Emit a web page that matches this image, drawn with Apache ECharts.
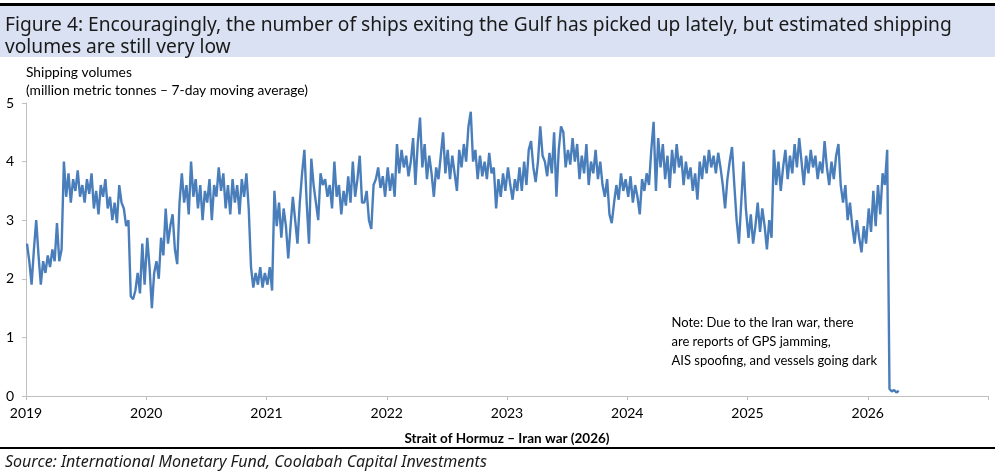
<!DOCTYPE html>
<html>
<head>
<meta charset="utf-8">
<title>Strait of Hormuz shipping volumes</title>
<script src="https://cdn.jsdelivr.net/npm/echarts@6/dist/echarts.min.js"></script>
<style>
    html, body { margin: 0; padding: 0; background: #fff; }
    #chart { width: 995px; height: 476px; }
</style>
</head>
<body>
<div id="chart"></div>
<script>
// weekly readings (million tonnes, 7-day moving average)
const vals2019 = [2.6, 2.3, 1.9, 2.5, 3.0, 2.4, 1.9, 2.3, 2.1, 2.4, 2.2, 2.5, 2.3, 2.95, 2.3, 2.5,
    4.0, 3.4, 3.8, 3.3, 3.7, 3.5, 3.85, 3.4, 3.6, 3.3, 3.7, 3.45, 3.8, 3.2, 3.5, 3.1,
    3.6, 3.4, 3.7, 3.2, 3.4, 3.0, 3.3, 2.95, 3.6, 3.3, 3.2, 2.9, 3.0, 1.7, 1.65, 1.8,
    2.1, 1.75, 2.6, 1.9];
const vals2020 = [2.7, 2.2, 1.5, 2.1, 2.3, 2.0, 2.7, 2.4, 3.2, 2.6, 2.9, 3.1, 2.5, 2.25, 3.3, 3.8,
    3.3, 3.6, 3.1, 4.0, 3.4, 3.7, 3.2, 3.6, 3.0, 3.5, 3.3, 3.7, 3.0, 3.6, 3.4, 3.9,
    3.5, 3.8, 3.2, 3.6, 3.1, 3.7, 3.3, 3.6, 3.1, 3.7, 3.4, 3.8, 3.2, 2.2, 1.85, 2.1,
    1.9, 2.2, 1.85, 2.1];
const vals2021 = [1.9, 2.2, 1.8, 3.5, 2.9, 3.3, 2.7, 3.2, 2.9, 2.35, 2.9, 3.4, 3.0, 2.6, 3.3, 3.8,
    4.2, 3.3, 2.6, 4.05, 3.6, 3.3, 3.0, 3.8, 3.6, 3.7, 3.4, 3.6, 3.2, 4.0, 3.4, 3.6,
    3.1, 3.5, 3.25, 3.75, 3.3, 4.0, 3.4, 3.7, 4.1, 3.3, 3.3, 3.5, 3.0, 2.85, 3.6, 3.7,
    3.9, 3.55, 3.75, 3.4];
const vals2022 = [3.9, 3.5, 3.8, 3.4, 4.3, 3.8, 4.2, 3.9, 4.1, 3.75, 4.0, 4.4, 3.6, 4.3, 4.75, 3.9,
    4.3, 3.7, 4.1, 3.8, 3.4, 3.9, 3.7, 4.1, 4.5, 3.8, 4.2, 3.7, 4.1, 3.8, 3.5, 4.2,
    3.9, 4.3, 4.0, 4.6, 4.85, 4.0, 4.2, 3.7, 4.1, 3.75, 4.0, 3.7, 4.15, 3.8, 3.9, 3.2,
    3.7, 3.4, 3.8, 3.5];
const vals2023 = [3.9, 3.6, 3.35, 3.7, 3.5, 3.9, 3.5, 4.0, 3.6, 4.2, 4.35, 3.9, 3.65, 4.0, 4.6, 4.1,
    4.0, 3.75, 4.15, 3.8, 4.5, 3.4, 4.2, 4.6, 4.5, 3.9, 4.2, 3.95, 4.4, 4.0, 4.3, 3.7,
    4.1, 3.8, 4.3, 3.6, 4.0, 3.8, 4.2, 3.7, 4.0, 3.6, 3.4, 3.7, 3.1, 2.95, 3.3, 3.6,
    3.35, 3.8, 3.5, 3.7];
const vals2024 = [3.4, 3.75, 3.3, 3.6, 3.4, 3.1, 3.7, 3.5, 3.8, 3.6, 4.2, 4.68, 3.5, 4.4, 3.9, 4.3,
    3.7, 4.1, 3.55, 4.2, 3.8, 4.3, 3.9, 4.1, 3.6, 4.0, 3.7, 3.9, 3.5, 3.8, 3.35, 4.0,
    3.7, 4.1, 3.8, 4.2, 3.9, 4.1, 3.8, 4.15, 3.9, 3.6, 3.2, 3.7, 4.0, 4.25, 3.6, 3.0,
    2.6, 3.3, 4.0, 3.2];
const vals2025 = [2.7, 3.1, 2.6, 2.9, 3.3, 2.8, 3.2, 2.9, 2.5, 3.0, 2.7, 4.2, 3.6, 4.0, 3.5, 3.9,
    4.2, 3.7, 4.1, 3.8, 4.3, 3.9, 4.4, 4.0, 3.6, 4.1, 3.8, 4.2, 3.9, 4.1, 3.7, 4.0,
    3.8, 4.35, 3.9, 3.6, 4.0, 3.7, 4.1, 4.3, 3.6, 3.3, 3.6, 3.0, 3.3, 2.9, 2.6, 3.0,
    2.7, 2.45, 2.9, 2.6];
const vals2026 = [3.2, 2.8, 3.5, 2.9, 3.6, 3.1, 3.8, 3.6, 4.2, 0.12, 0.08, 0.1, 0.06, 0.09];

const years = [2019, 2020, 2021, 2022, 2023, 2024, 2025, 2026];
const yearVals = [vals2019, vals2020, vals2021, vals2022, vals2023, vals2024, vals2025, vals2026];

// x position as decimal year, one point per week
let seriesData = [];
years.forEach((yr, k) => {
    yearVals[k].forEach((v, i) => {
        seriesData.push([yr + (7 * i + 3) / 365, v]);
    });
});

const titleLines = 'Figure 4: Encouragingly, the number of ships exiting the Gulf has picked up lately, but estimated shipping\nvolumes are still very low';
const noteText = 'Note: Due to the Iran war, there\nare reports of GPS jamming,\nAIS spoofing, and vessels going dark';

const chart = echarts.init(document.getElementById('chart'));
const option = {
    animation: false,
    backgroundColor: '#ffffff',
    grid: { left: 26, right: 7, top: 103, bottom: 80, containLabel: false },
    xAxis: {
        type: 'value',
        min: 2019,
        max: 2027,
        interval: 1,
        name: 'Strait of Hormuz – Iran war (2026)',
        nameLocation: 'middle',
        nameGap: 36,
        nameTextStyle: { fontFamily: 'Lato', fontSize: 13.5, fontWeight: 'bold', color: '#000' },
        axisLine: { lineStyle: { color: '#bfbfbf', width: 1 } },
        axisTick: { show: true, length: 4, lineStyle: { color: '#bfbfbf' } },
        axisLabel: {
            margin: 10,
            fontFamily: 'Lato',
            fontSize: 14,
            color: '#000',
            formatter: v => (v < 2027 ? String(v) : '')
        },
        splitLine: { show: false }
    },
    yAxis: {
        type: 'value',
        min: 0,
        max: 5,
        interval: 1,
        axisLine: { show: true, lineStyle: { color: '#bfbfbf', width: 1 } },
        axisTick: { show: true, length: 4, lineStyle: { color: '#bfbfbf' } },
        axisLabel: { margin: 12, fontFamily: 'Lato', fontSize: 14, color: '#000' },
        splitLine: { show: false }
    },
    series: [
        {
            type: 'line',
            data: seriesData,
            showSymbol: false,
            lineStyle: { color: '#4a7ebb', width: 2.4 },
            itemStyle: { color: '#4a7ebb' }
        }
    ],
    graphic: [
        { type: 'rect', shape: { x: 0, y: 3, width: 995, height: 3 }, style: { fill: '#000' }, z: 10 },
        { type: 'rect', shape: { x: 0, y: 6, width: 995, height: 51 }, style: { fill: '#dae1f2' }, z: 9 },
        {
            type: 'text', left: 5, top: 15, z: 11,
            style: { text: titleLines, fontFamily: 'Noto Sans', fontSize: 19.2, lineHeight: 22, fill: '#1a1a1a' }
        },
        {
            type: 'text', left: 26, top: 64, z: 11,
            style: {
                text: 'Shipping volumes\n(million metric tonnes – 7-day moving average)',
                fontFamily: 'Lato', fontSize: 13.8, lineHeight: 18, fill: '#000'
            }
        },
        {
            type: 'text', right: 118, top: 313, z: 11,
            style: { text: noteText, fontFamily: 'Lato', fontSize: 13, lineHeight: 19, fill: '#000', align: 'right' }
        },
        { type: 'rect', shape: { x: 0, y: 447, width: 995, height: 2 }, style: { fill: '#000' }, z: 10 },
        {
            type: 'text', left: 5, top: 454, z: 11,
            style: {
                text: 'Source: International Monetary Fund, Coolabah Capital Investments',
                fontFamily: 'Noto Sans', fontStyle: 'italic', fontSize: 16, fill: '#1a1a1a'
            }
        }
    ]
};
chart.setOption(option);
</script>
</body>
</html>
